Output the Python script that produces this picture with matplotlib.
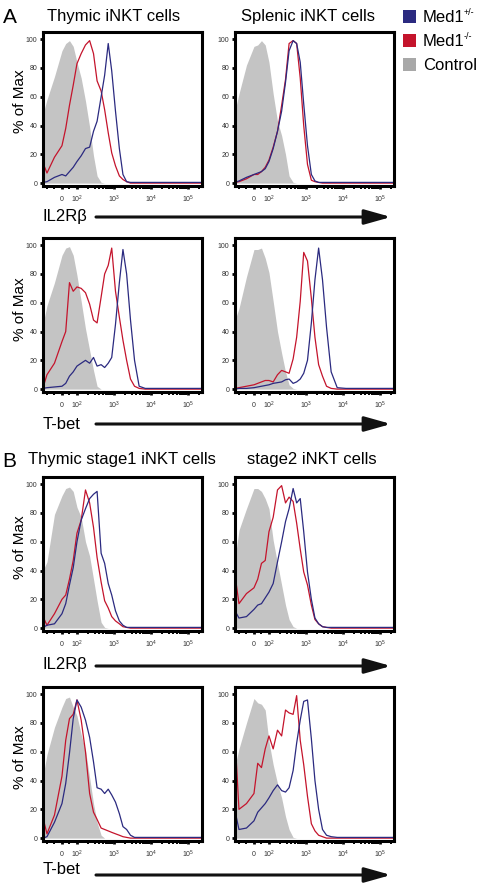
import numpy as np
import matplotlib
matplotlib.use('Agg')
import matplotlib.pyplot as plt
from matplotlib.patches import FancyArrowPatch, Rectangle

plt.rcParams['font.family'] = ['Liberation Sans', 'DejaVu Sans']
plt.rcParams['mathtext.fontset'] = 'custom'
plt.rcParams['mathtext.rm'] = 'Liberation Sans'
plt.rcParams['mathtext.it'] = 'Liberation Sans:italic'
plt.rcParams['mathtext.bf'] = 'Liberation Sans:bold'

# fluorescence intensity grid (same for all histograms)
intensity = [-128, -100, -50, 0, 25, 50, 75, 100, 130, 170, 220, 280, 350, 450, 560,
             700, 870, 1100, 1400, 1750, 2200, 2800, 3600, 4800, 7000, 12000, 30000,
             100000, 240000]

# A, thymic iNKT, IL2Rb
ctrl_thy_il2rb = [48, 58, 74, 92, 97, 99, 95, 84, 73, 57, 39, 19, 5, 0.5, 0, 0, 0, 0, 0, 0, 0, 0, 0, 0, 0, 0, 0, 0, 0]
ko_thy_il2rb = [14, 7, 18, 26, 38, 54, 68, 83, 90, 96, 99, 90, 71, 64, 51, 35, 21, 12, 5, 2.5, 1, 0, 0, 0, 0, 0, 0, 0, 0]
het_thy_il2rb = [0.5, 1, 4, 6, 5, 8, 11, 15, 19, 24, 25, 36, 43, 60, 75, 97, 78, 50, 24, 6, 1, 0.5, 0.5, 0.5, 0.5, 0.5, 0.5, 0.5, 0.5]

# A, splenic iNKT, IL2Rb
ctrl_spl_il2rb = [50, 62, 82, 95, 96, 99, 96, 84, 62, 43, 33, 20, 5, 0.5, 0, 0, 0, 0, 0, 0, 0, 0, 0, 0, 0, 0, 0, 0, 0]
ko_spl_il2rb = [0.5, 1, 3, 6, 6, 8, 11, 16, 25, 36, 54, 72, 97, 99, 97, 73, 40, 13, 2, 1, 0.5, 0, 0, 0, 0, 0, 0, 0, 0]
het_spl_il2rb = [0.5, 1.5, 4, 6, 7, 8, 10, 15, 24, 36, 50, 70, 92, 99, 97, 84, 55, 26, 6, 1.5, 0.5, 0.5, 0.5, 0.5, 0.5, 0.5, 0.5, 0.5, 0.5]

# A, thymic iNKT, T-bet
ctrl_thy_tbet = [45, 58, 74, 93, 98, 99, 93, 79, 61, 42, 27, 13, 2, 0, 0, 0, 0, 0, 0, 0, 0, 0, 0, 0, 0, 0, 0, 0, 0]
ko_thy_tbet = [1, 10, 18, 33, 40, 74, 68, 71, 70, 67, 59, 48, 46, 64, 80, 86, 98, 68, 50, 34, 20, 7, 2, 0.5, 0, 0, 0, 0, 0]
het_thy_tbet = [0.5, 1, 1.5, 2, 4, 9, 12, 16, 18, 20, 18, 22, 16, 17, 15, 18, 22, 45, 74, 97, 80, 48, 20, 2, 0.5, 0.5, 0.5, 0.5, 0.5]

# A, splenic iNKT, T-bet
ctrl_spl_tbet = [48, 56, 78, 97, 97, 98, 91, 81, 61, 40, 25, 12, 3, 0.5, 0, 0, 0, 0, 0, 0, 0, 0, 0, 0, 0, 0, 0, 0, 0]
ko_spl_tbet = [0.5, 1, 2, 3, 4, 5, 6, 6, 5, 10, 13, 12, 11, 21, 36, 61, 95, 89, 63, 36, 17, 9, 2, 0.5, 0, 0, 0, 0, 0]
het_spl_tbet = [0, 0.5, 0.5, 1, 1.5, 2, 2.5, 3, 4, 4.5, 5, 6.5, 7, 4, 5, 7, 11, 20, 46, 76, 98, 76, 43, 12, 1, 0.5, 0.5, 0.5, 0.5]

# B, thymic stage1 iNKT, IL2Rb
ctrl_st1_il2rb = [40, 46, 79, 92, 97, 98, 95, 84, 77, 60, 50, 34, 19, 4, 0.5, 0, 0, 0, 0, 0, 0, 0, 0, 0, 0, 0, 0, 0, 0]
ko_st1_il2rb = [8, 2, 10, 20, 23, 34, 47, 66, 75, 96, 87, 70, 49, 32, 19, 14, 8, 5, 3, 1, 0.5, 0, 0, 0, 0, 0, 0, 0, 0]
het_st1_il2rb = [0.5, 2, 3, 10, 17, 30, 42, 60, 75, 83, 90, 93, 95, 52, 45, 31, 23, 12, 5, 2, 0.5, 0.5, 0.5, 0.5, 0.5, 0.5, 0.5, 0.5, 0.5]

# B, stage2 iNKT, IL2Rb
ctrl_st2_il2rb = [48, 68, 83, 97, 97, 95, 90, 83, 61, 45, 30, 16, 6, 1, 0, 0, 0, 0, 0, 0, 0, 0, 0, 0, 0, 0, 0, 0, 0]
ko_st2_il2rb = [37, 17, 24, 28, 34, 45, 47, 67, 77, 96, 99, 87, 91, 88, 73, 55, 39, 30, 16, 6, 3, 1, 0.5, 0, 0, 0, 0, 0, 0]
het_st2_il2rb = [12, 7, 8, 13, 16, 17, 21, 25, 31, 46, 60, 74, 83, 97, 87, 90, 67, 39, 20, 7, 3, 1, 0.5, 0.5, 0.5, 0.5, 0.5, 0.5, 0.5]

# B, thymic stage1 iNKT, T-bet
ctrl_st1_tbet = [43, 58, 77, 91, 97, 98, 91, 85, 72, 61, 42, 24, 11, 2, 0, 0, 0, 0, 0, 0, 0, 0, 0, 0, 0, 0, 0, 0, 0]
ko_st1_tbet = [14, 3, 16, 43, 68, 83, 86, 96, 82, 60, 31, 18, 13, 7, 6, 5, 4, 3, 2, 1, 0.5, 0, 0, 0, 0, 0, 0, 0, 0]
het_st1_tbet = [0, 1, 11, 24, 38, 59, 83, 96, 91, 82, 70, 53, 35, 34, 31, 34, 30, 25, 17, 8, 6, 2, 0.5, 0.5, 0.5, 0.5, 0.5, 0.5, 0.5]

# B, stage2 iNKT, T-bet
ctrl_st2_tbet = [50, 62, 80, 97, 94, 93, 89, 67, 51, 38, 28, 15, 6, 0.5, 0, 0, 0, 0, 0, 0, 0, 0, 0, 0, 0, 0, 0, 0, 0]
ko_st2_tbet = [70, 20, 24, 31, 52, 49, 62, 71, 62, 75, 71, 89, 87, 86, 99, 68, 51, 29, 10, 5, 2, 1, 0, 0, 0, 0, 0, 0, 0]
het_st2_tbet = [19, 6, 7, 12, 18, 21, 24, 28, 33, 37, 33, 32, 35, 47, 66, 82, 95, 96, 69, 40, 20, 6, 2, 1, 0.5, 0.5, 0.5, 0.5, 0.5]

y_ticks = [0, 20, 40, 60, 80, 100]
x_major = [0, 100, 1000, 10000, 100000]
x_major_labels = ['$0$', '$10^2$', '$10^3$', '$10^4$', '$10^5$']
x_minor = [-100, -50, 50] + [k * 10 ** e for e in (2, 3, 4) for k in range(2, 10)] + [200000]

legend_names = ['Med1', 'Med1', 'Control']
legend_sups = ['+/-', '-/-', '']

BLUE = '#2b2a80'
RED = '#c4142c'
GRAY = '#c4c4c4'
LEG_GRAY = '#a8a8a8'

W, H = 480, 888
fig = plt.figure(figsize=(W / 100, H / 100), dpi=100)


def fx(x):
    return x / W


def fy(y):
    return 1 - y / H


panels = [
    (43, 32, ctrl_thy_il2rb, ko_thy_il2rb, het_thy_il2rb),
    (235, 32, ctrl_spl_il2rb, ko_spl_il2rb, het_spl_il2rb),
    (43, 238, ctrl_thy_tbet, ko_thy_tbet, het_thy_tbet),
    (235, 238, ctrl_spl_tbet, ko_spl_tbet, het_spl_tbet),
    (43, 477, ctrl_st1_il2rb, ko_st1_il2rb, het_st1_il2rb),
    (235, 477, ctrl_st2_il2rb, ko_st2_il2rb, het_st2_il2rb),
    (43, 687, ctrl_st1_tbet, ko_st1_tbet, het_st1_tbet),
    (235, 687, ctrl_st2_tbet, ko_st2_tbet, het_st2_tbet),
]

for left, top, ctrl, ko, het in panels:
    ax = fig.add_axes([fx(left), fy(top + 154), fx(159), 154 / H])
    ax.set_xscale('symlog', linthresh=100, linscale=0.365)
    ax.fill_between(intensity, ctrl, 0, color=GRAY, lw=0, zorder=1)
    ax.plot(intensity, ko, color=RED, lw=0.9, zorder=2)
    ax.plot(intensity, het, color=BLUE, lw=0.9, zorder=3)
    ax.set_xlim(-128, 240000)
    ax.set_ylim(-2, 105)
    ax.set_yticks(y_ticks)
    ax.set_xticks(x_major)
    ax.set_xticklabels(x_major_labels)
    ax.set_xticks(x_minor, minor=True)
    for s in ax.spines.values():
        s.set_linewidth(2.2)
        s.set_zorder(5)
    ax.tick_params(axis='both', which='major', labelsize=5, length=2.5, width=2,
                   pad=1.5, labelcolor='#333333')
    ax.tick_params(axis='x', which='minor', length=2.2, width=1.4)
    ax.tick_params(axis='x', which='major', pad=3)

# y labels
for cy in [101, 309, 547, 757]:
    fig.text(fx(20), fy(cy), '% of Max', rotation=90, fontsize=11,
             ha='center', va='center')

# panel letters and titles
fig.text(fx(3), fy(23), 'A', fontsize=15, ha='left', va='baseline')
fig.text(fx(2), fy(467), 'B', fontsize=15, ha='left', va='baseline')
fig.text(fx(47), fy(20.5), 'Thymic iNKT cells', fontsize=12, ha='left', va='baseline')
fig.text(fx(241), fy(20.5), 'Splenic iNKT cells', fontsize=12, ha='left', va='baseline')
fig.text(fx(28), fy(463.5), 'Thymic stage1 iNKT cells', fontsize=12, ha='left', va='baseline')
fig.text(fx(247), fy(463.5), 'stage2 iNKT cells', fontsize=12, ha='left', va='baseline')

# x-axis labels with arrows
for label, ty, ay in [('IL2R\u03b2', 217, 217), ('T-bet', 424, 424),
                      ('IL2R\u03b2', 665, 666), ('T-bet', 869, 875)]:
    fig.text(fx(43), fy(ty), label, fontsize=12, ha='left', va='center')
    fig.add_artist(FancyArrowPatch((fx(96), fy(ay)), (fx(391), fy(ay)),
                                   transform=fig.transFigure,
                                   arrowstyle='-|>,head_length=1.6,head_width=0.45',
                                   mutation_scale=10, lw=2.2, color='#111111',
                                   shrinkA=0, shrinkB=0))

# legend
for i, (name, sup, col) in enumerate(zip(legend_names, legend_sups, [BLUE, RED, LEG_GRAY])):
    yy = 10 + i * 24
    fig.add_artist(Rectangle((fx(403), fy(yy + 13)), fx(13), 13 / H,
                             transform=fig.transFigure, color=col, lw=0))
    fig.text(fx(423), fy(yy + 12), name, fontsize=12, ha='left', va='baseline')
    if sup:
        fig.text(fx(463.5), fy(yy + 5), sup, fontsize=6.5, ha='left', va='baseline')

fig.savefig('out.png', dpi=100)
